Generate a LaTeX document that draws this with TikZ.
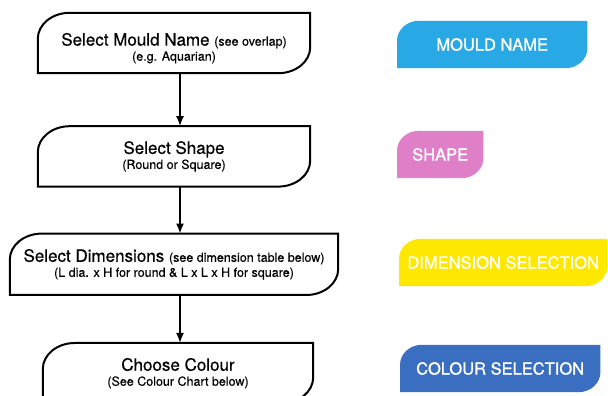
\documentclass[tikz,border=0pt]{standalone}
\usepackage{fontspec}
\setmainfont{TeX Gyre Heros}[FakeBold=0.4]
\newfontfamily\tagfont{TeX Gyre Heros}[FakeBold=1.2]
\usetikzlibrary{positioning,arrows.meta,backgrounds}

\definecolor{mouldcyan}{HTML}{29A8E6}
\definecolor{shapepink}{HTML}{DF7FC8}
\definecolor{dimyellow}{HTML}{FFE800}
\definecolor{colourblue}{HTML}{3A6EC0}

% outline with rounded top-left and bottom-right corners
\newcommand{\leafpath}[3]{(#1.south west) -- ([yshift=-#3]#1.north west)
  arc[start angle=180, end angle=90, x radius=#2, y radius=#3]
  -- (#1.north east) -- ([yshift=#3]#1.south east)
  arc[start angle=0, end angle=-90, x radius=#2, y radius=#3] -- cycle}
\newcommand{\subtxt}{\fontsize{12.5}{14}\selectfont}

\begin{document}
\begin{tikzpicture}[x=1pt, y=1pt,
  box/.style={minimum height=60pt, inner sep=0pt, align=center,
    font=\fontsize{17}{15}\selectfont},
  tag/.style={minimum height=47pt, inner sep=0pt, anchor=west,
    text=white, font=\tagfont\fontsize{16.5}{18}\selectfont},
  outline/.style={draw, line width=2pt},
  arr/.style={-{Latex[length=10pt,width=8pt]}, line width=1.8pt},
  node distance=48pt]
  \useasboundingbox (0,0) rectangle (608,396);
  \coordinate (axis) at (180,0);
  % flow chart
  \node[box, minimum width=272pt] (mould) at (174,353)
    {\rule{0pt}{23pt}Select Mould Name {\subtxt (see overlap)}\\{\subtxt (e.g. Aquarian)}};
  \node[box, minimum width=272pt, below=53pt of mould] (shape)
    {Select Shape\\{\subtxt (Round or Square)}};
  \node[box, minimum width=328pt, minimum height=61pt, below=47pt of shape] (dims)
    {Select Dimensions {\subtxt (see dimension table below)}\\
     {\subtxt (L dia. x H for round \& L x L x H for square)}};
  \node[box, minimum width=270pt, below=of dims, xshift=4pt] (colour)
    {Choose Colour\\{\subtxt (See Colour Chart below)}};
  \foreach \n in {mould,shape,dims,colour}
    \draw[outline] \leafpath{\n}{32pt}{26pt};
  \draw[arr] (mould.south -| axis) -- (shape.north -| axis);
  \draw[arr] (shape.south -| axis) -- (dims.north -| axis);
  \draw[arr] (dims.south -| axis) -- (colour.north -| axis);
  % colour tags
  \node[tag, minimum width=190pt] (mouldtag) at (397,351.5) {MOULD NAME};
  \node[tag, minimum width=86pt] (shapetag) at (397,241.5) {SHAPE};
  \node[tag, minimum width=208pt] (dimstag) at (399,133.5) {DIMENSION SELECTION};
  \node[tag, minimum width=200pt] (colourtag) at (400,27.5) {COLOUR SELECTION};
  \begin{scope}[on background layer]
    \fill[mouldcyan] \leafpath{mouldtag}{22pt}{20pt};
    \fill[shapepink] \leafpath{shapetag}{22pt}{20pt};
    \fill[dimyellow] \leafpath{dimstag}{22pt}{20pt};
    \fill[colourblue] \leafpath{colourtag}{22pt}{20pt};
  \end{scope}
\end{tikzpicture}
\end{document}
